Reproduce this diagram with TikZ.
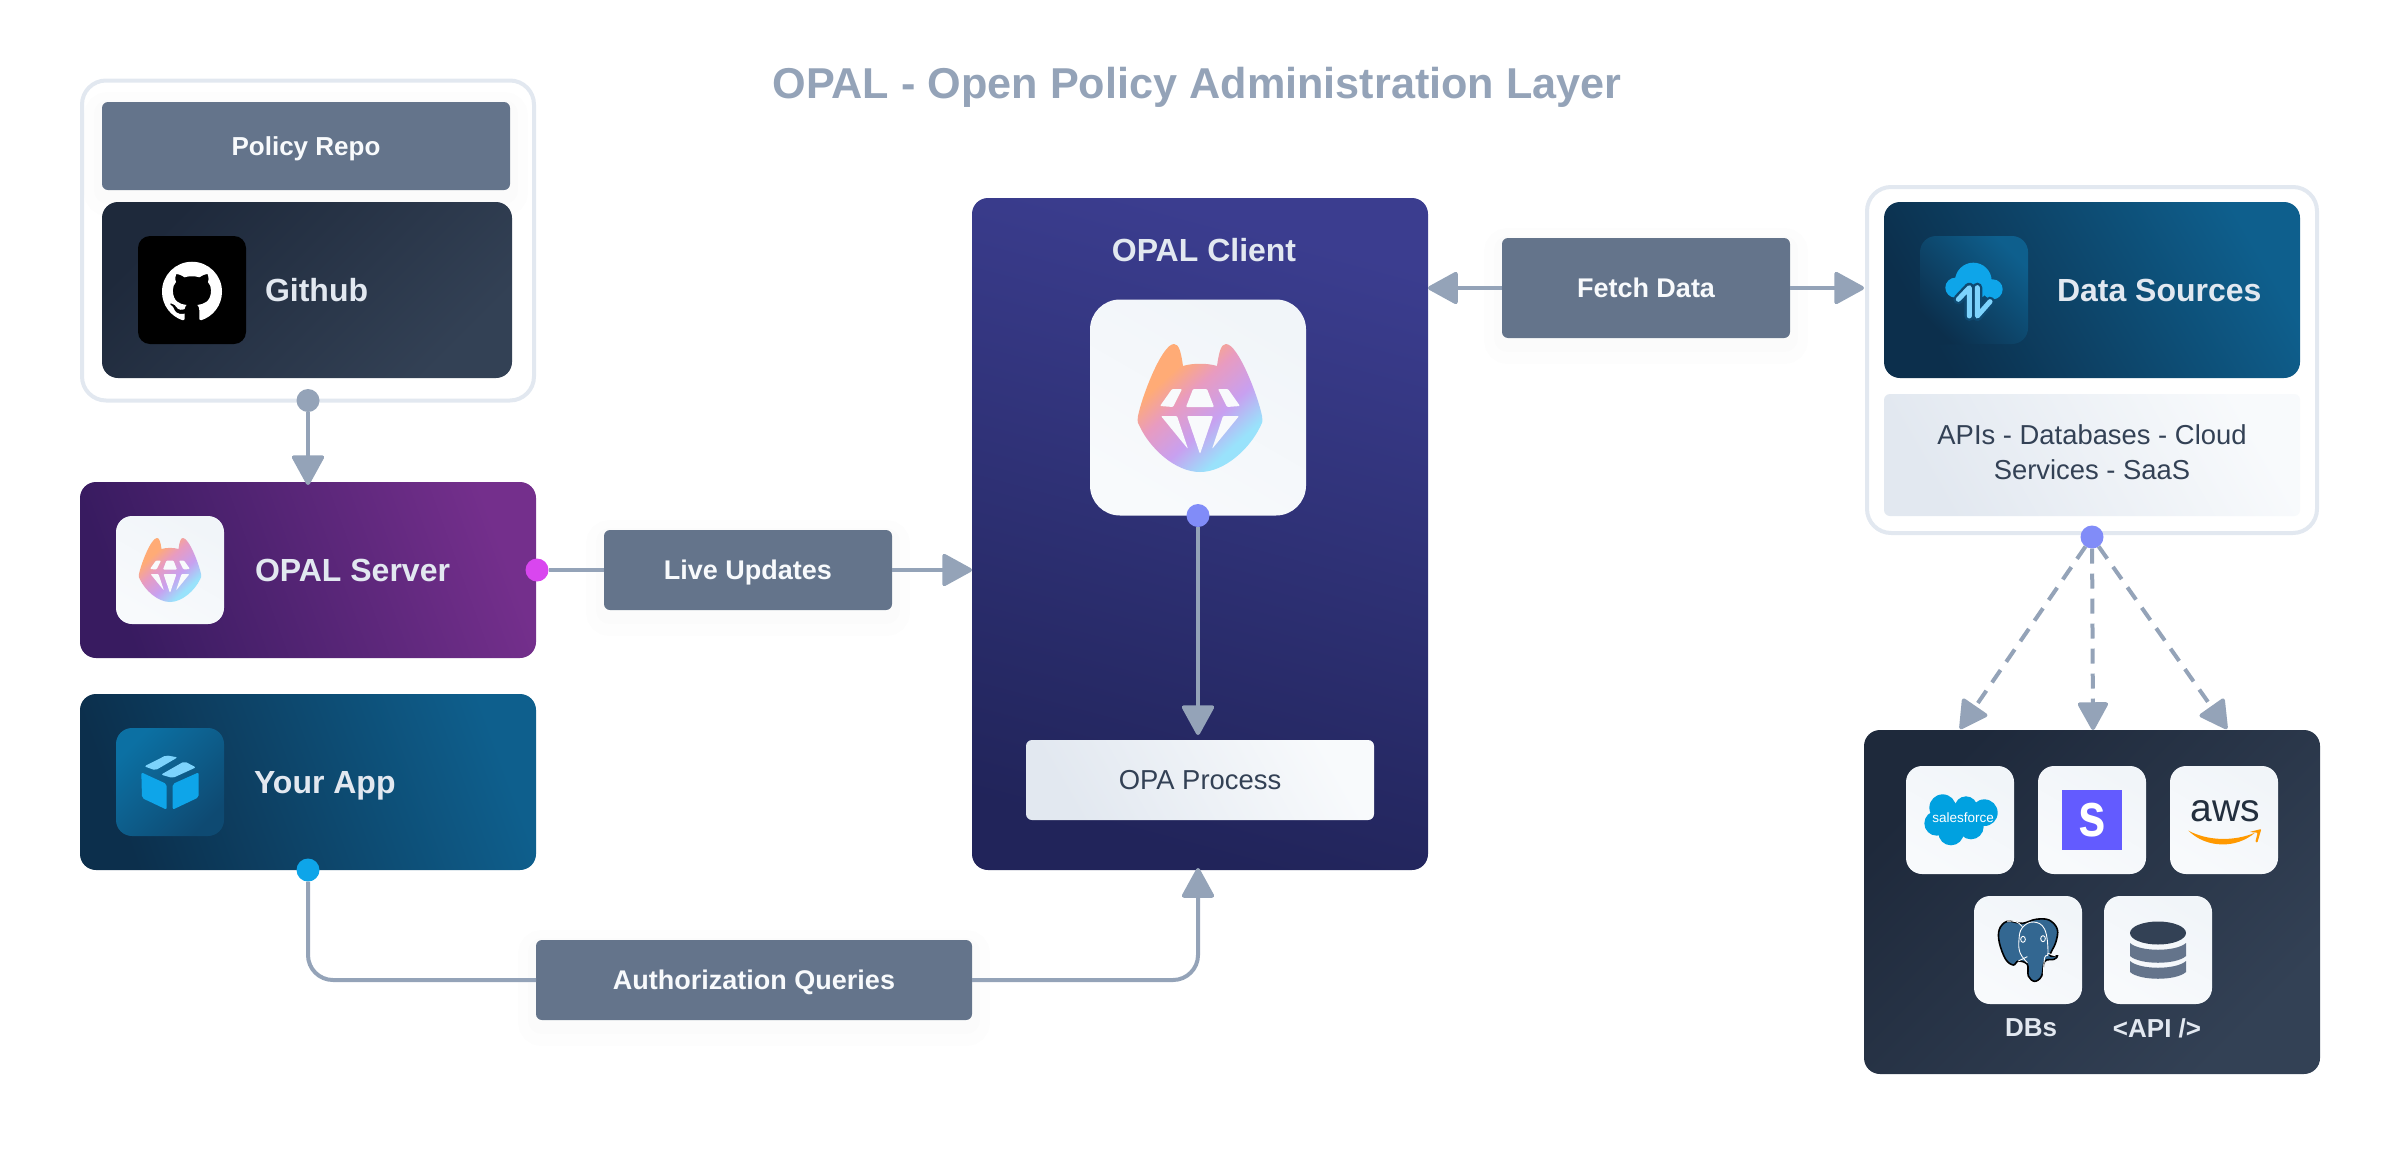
\documentclass[tikz,border=0pt]{standalone}
\usepackage{fontspec}
\setmainfont{Liberation Sans}
\usetikzlibrary{arrows.meta,positioning,svg.path}
\definecolor{slategray}{HTML}{64748B}
\definecolor{flowgray}{HTML}{94A3B8}
\definecolor{inkdark}{HTML}{334155}
\definecolor{inknight}{HTML}{1E293B}
\definecolor{softwhite}{HTML}{E2E8F0}
\definecolor{iconlight}{HTML}{F8FAFC}
\definecolor{iconshade}{HTML}{F1F5F9}
\definecolor{skyblue}{HTML}{0EA5E9}
\definecolor{skylight}{HTML}{7DD3FC}
\definecolor{indigodot}{HTML}{818CF8}
\definecolor{fuchsiadot}{HTML}{D946EF}
\definecolor{serverdark}{HTML}{381B60}
\definecolor{serverlight}{HTML}{742F8C}
\definecolor{oceandark}{HTML}{0C2F4C}
\definecolor{oceanlight}{HTML}{0E5F8D}
\definecolor{oceanbright}{HTML}{0C70A3}
\definecolor{oceanmid}{HTML}{0E4A72}
\definecolor{clientdark}{HTML}{21245A}
\definecolor{clientlight}{HTML}{3B3D8F}
\definecolor{cloudblue}{HTML}{00A1E0}
\definecolor{stripeblue}{HTML}{635BFF}
\definecolor{awsink}{HTML}{232F3E}
\definecolor{awsorange}{HTML}{FF9900}
\definecolor{pgblue}{HTML}{336791}
\definecolor{logoorange}{HTML}{FFAB76}
\definecolor{logopink}{HTML}{E89BC0}
\definecolor{logopurple}{HTML}{C8A0F0}
\definecolor{logocyan}{HTML}{99E2FB}
\pgfdeclarehorizontalshading{opalshade}{100bp}{color(0bp)=(logoorange); color(32bp)=(logoorange); color(43bp)=(logopink); color(57bp)=(logopurple); color(70bp)=(logocyan); color(100bp)=(logocyan)}
\tikzset{%
  arrow/.style={line width=4pt,draw=flowgray,-{Triangle[width=34pt,length=32pt,round]}},
  flow/.style={line width=4pt,draw=flowgray},
  dasharrow/.style={line width=4pt,draw=flowgray,dash pattern=on 15pt off 10pt,-{Triangle[width=32pt,length=30pt,round]}},
  gradient/.style n args={3}{left color=#1,right color=#2,shading angle=#3},
  softshadow/.style={preaction={draw=black,draw opacity=.006,line width=36pt,transform canvas={yshift=-8pt}},preaction={draw=black,draw opacity=.008,line width=16pt,transform canvas={yshift=-6pt}}},
  panel/.style={rounded corners=16pt,inner sep=0pt,outer sep=0pt,minimum width=456pt},
  frame/.style={draw=softwhite,line width=4pt,fill=white!99!softwhite,rounded corners=24pt,inner sep=0pt,outer sep=0pt},
  edgebox/.style={fill=slategray,rounded corners=6pt,inner sep=0pt,outer sep=0pt,softshadow,text=iconlight,font=\fontsize{27}{32}\selectfont\bfseries,text height=19pt,text depth=0pt},
  lightbox/.style={gradient={softwhite}{iconlight}{120},rounded corners=6pt,inner sep=0pt,outer sep=0pt,text=inkdark,font=\fontsize{27.4}{35}\selectfont},
  iconbox/.style={gradient={iconlight}{iconshade}{150},rounded corners=16pt,inner sep=0pt,outer sep=0pt,minimum size=108pt},
  toplabel/.style={inner sep=0pt,outer sep=0pt,text=softwhite,font=\fontsize{32}{38}\selectfont\bfseries,text height=23pt,text depth=0pt},
  smalllabel/.style={inner sep=0pt,outer sep=0pt,text=softwhite,font=\fontsize{26}{30}\selectfont\bfseries},
  dotnode/.style={circle,inner sep=0pt,outer sep=0pt,minimum size=23pt},
  opallogo/.pic={
    \shade[shading=opalshade,shading angle=-48] (-17,-42) .. controls (-19,-56) and (-21,-64) .. (-26,-64)
      .. controls (-38,-64) and (-58,-12) .. (-62,8) .. controls (-63,14) and (-62,16) .. (-60,19)
      .. controls (-50,40) and (-25,64) .. (0,64) .. controls (25,64) and (50,40) .. (60,19)
      .. controls (62,16) and (63,14) .. (62,8) .. controls (58,-12) and (38,-64) .. (26,-64)
      .. controls (21,-64) and (19,-56) .. (17,-42) .. controls (8,-45) and (-8,-45) .. (-17,-42) -- cycle;
    \fill[iconlight,rounded corners=1pt] (-40,-2) -- (-28,-19) -- (-18,-19) -- (-27,-1) -- cycle;
    \fill[iconlight,rounded corners=1pt] (-14,-1) -- (-7,-19) -- (7,-19) -- (14,-1) -- cycle;
    \fill[iconlight,rounded corners=1pt] (40,-2) -- (28,-19) -- (18,-19) -- (27,-1) -- cycle;
    \fill[iconlight,rounded corners=1pt] (-39,8) -- (-23,8) -- (-12,41) -- cycle;
    \fill[iconlight,rounded corners=1pt] (-13,8) -- (13,8) -- (0,46) -- cycle;
    \fill[iconlight,rounded corners=1pt] (39,8) -- (23,8) -- (12,41) -- cycle;
  },
  octocat/.pic={
    \fill[white] svg[xscale=2.5,yscale=-2.5] {M 12 0.297 c -6.63 0 -12 5.373 -12 12 c 0 5.303 3.438 9.8 8.205 11.385 c 0.6 0.113 0.82 -0.258 0.82 -0.577 c 0 -0.285 -0.01 -1.04 -0.015 -2.04 c -3.338 0.724 -4.042 -1.61 -4.042 -1.61 C 4.422 18.07 3.633 17.7 3.633 17.7 c -1.087 -0.744 0.084 -0.729 0.084 -0.729 c 1.205 0.084 1.838 1.236 1.838 1.236 c 1.07 1.835 2.809 1.305 3.495 0.998 c 0.108 -0.776 0.417 -1.305 0.76 -1.605 c -2.665 -0.3 -5.466 -1.332 -5.466 -5.93 c 0 -1.31 0.465 -2.38 1.235 -3.22 c -0.135 -0.303 -0.54 -1.523 0.105 -3.176 c 0 0 1.005 -0.322 3.3 1.23 c 0.96 -0.267 1.98 -0.399 3 -0.405 c 1.02 0.006 2.04 0.138 3 0.405 c 2.28 -1.552 3.285 -1.23 3.285 -1.23 c 0.645 1.653 0.24 2.873 0.12 3.176 c 0.765 0.84 1.23 1.91 1.23 3.22 c 0 4.61 -2.805 5.625 -5.475 5.92 c 0.42 0.36 0.81 1.096 0.81 2.22 c 0 1.606 -0.015 2.896 -0.015 3.286 c 0 0.315 0.21 0.69 0.825 0.57 C 20.565 22.092 24 17.592 24 12.297 c 0 -6.627 -5.373 -12 -12 -12 z};
  },
  appcube/.pic={
    \begin{scope}[x=.3333pt,y=-.3333pt]
      \fill[skyblue,rounded corners=2pt] (76,133) -- (152,168) -- (152,245) -- (78,210) -- cycle;
      \fill[skyblue,rounded corners=2pt] (170,168) -- (248,133) -- (248,208) -- (170,245) -- cycle;
      \fill[skylight,rounded corners=2pt] (85,115) -- (150,82) -- (185,88) -- (118,127) -- cycle;
      \fill[skylight,rounded corners=2pt] (135,140) -- (205,100) -- (240,118) -- (170,150) -- cycle;
    \end{scope}
  },
  cloudarrows/.pic={
    \begin{scope}[x=.3333pt,y=-.3333pt]
      \fill[skyblue] (160,135) circle[radius=55] (106,155) circle[radius=30] (218,160) circle[radius=30];
      \draw[draw=oceanmid,line width=10pt,line cap=round,line join=round] (115,190) -- (148,155) -- (148,240) (172,155) -- (172,240) -- (210,197);
      \draw[skylight,line width=5pt,line cap=round,line join=round] (115,190) -- (148,155) -- (148,240) (172,155) -- (172,240) -- (210,197);
    \end{scope}
  },
  sfcloud/.pic={
    \begin{scope}[x=.3333pt,y=-.3333pt]
      \fill[cloudblue] (110,125) circle[radius=40] (180,125) circle[radius=34] (235,140) circle[radius=40]
        (92,172) circle[radius=37] (135,200) circle[radius=38] (195,182) circle[radius=38] (160,160) circle[radius=40];
    \end{scope}
  },
  awssmile/.pic={
    \begin{scope}[x=.3333pt,y=-.3333pt]
      \fill[awsorange] (55,194) .. controls (115,226) and (195,226) .. (255,200) .. controls (200,248) and (110,248) .. (55,194) -- cycle;
      \fill[awsorange,rounded corners=1pt] (238,198) -- (274,189) -- (262,230) -- (256,228) -- (263,200) -- cycle;
    \end{scope}
  },
  elephant/.pic={
    \begin{scope}[x=.3333pt,y=-.3333pt]
      \draw[black,fill=pgblue,line width=1.6pt] plot[smooth cycle,tension=.6] coordinates {(100,76) (76,100) (76,140) (95,190) (118,207) (133,195) (160,205) (163,240) (182,256) (203,240) (212,196) (240,190) (250,180) (228,178) (245,140) (250,100) (225,72) (185,70) (145,82)};
      \draw[white,line width=.9pt] plot[smooth,tension=.7] coordinates {(160,200) (138,170) (135,130) (145,95) (178,78) (212,100) (222,170) (212,185) (208,235)};
      \draw[white,line width=.9pt] (133,195) -- (160,182) (222,172) -- (245,180) (100,76) .. controls (120,72) and (135,78) .. (145,92);
      \draw[white,line width=.9pt] (147,130) ellipse[x radius=7,y radius=9] (207,128) ellipse[x radius=7,y radius=9];
    \end{scope}
  },
  dbstack/.pic={
    \fill[inkdark] (0,-17) ellipse[x radius=28,y radius=11.5];
    \fill[slategray] (-28,-7) .. controls (-18,2) and (18,2) .. (28,-7) -- (28,6) .. controls (18,15) and (-18,15) .. (-28,6) -- cycle;
    \fill[slategray] (-28,11) .. controls (-18,20) and (18,20) .. (28,11) -- (28,22) .. controls (18,31) and (-18,31) .. (-28,22) -- cycle;
  },
}

\begin{document}
\begin{tikzpicture}[x=1pt,y=-1pt]
  \useasboundingbox (0,0) rectangle (2400,1154);

  \node[inner sep=0pt,text=flowgray,font=\fontsize{43.2}{50}\selectfont\bfseries,text height=31pt,text depth=0pt] (title) at (1197,83) {OPAL - Open Policy Administration Layer};

  % left column
  \node[frame,minimum width=452pt,minimum height=320pt] (repoframe) at (308,240.5) {};
  \node[edgebox,minimum width=408pt,minimum height=88pt,font=\fontsize{26}{30}\selectfont\bfseries] (policy) at (306,146) {Policy Repo};
  \node[panel,gradient={inknight}{inkdark}{45},minimum width=410pt,minimum height=176pt] (github) at (307,290) {};
  \node[rounded corners=12pt,fill=black,minimum size=108pt,inner sep=0pt,outer sep=0pt,anchor=west] (githubicon) at ([xshift=36pt]github.west) {};
  \pic at ([shift={(24,25)}]githubicon.north west) {octocat};
  \node[toplabel,right=19pt of githubicon] (githubtext) {Github};

  \node[panel,gradient={serverdark}{serverlight}{110},minimum height=176pt] (server) at (308,570) {};
  \node[iconbox,anchor=west] (servericon) at ([xshift=36pt]server.west) {};
  \pic[scale=.5] at (servericon) {opallogo};
  \node[toplabel,right=31pt of servericon] (servertext) {OPAL Server};

  \node[panel,gradient={oceandark}{oceanlight}{110},minimum height=176pt,below=36pt of server] (yourapp) {};
  \node[iconbox,gradient={oceanbright}{oceanmid}{45},anchor=west] (appicon) at ([xshift=36pt]yourapp.west) {};
  \pic at (appicon.north west) {appcube};
  \node[toplabel,right=30pt of appicon] (apptext) {Your App};

  % client
  \node[panel,gradient={clientdark}{clientlight}{165},minimum width=456pt,minimum height=672pt] (client) at (1200,534) {};
  \node[toplabel,inner sep=0pt] (clienttext) at (1204,250) {OPAL Client};
  \node[iconbox,rounded corners=30pt,minimum width=216pt,minimum height=216pt] (clienticon) at (1198,407.5) {};
  \pic at (1200,408) {opallogo};
  \node[lightbox,minimum width=348pt,minimum height=80pt] (opa) at (1200,780) {OPA Process};

  % data sources
  \node[frame,minimum width=450pt,minimum height=346pt] (dataframe) at (2092,360) {};
  \node[panel,gradient={oceandark}{oceanlight}{120},minimum width=416pt,minimum height=176pt] (datasources) at (2092,290) {};
  \node[iconbox,gradient={oceandark}{oceanlight}{135},anchor=west] (dataicon) at ([xshift=36pt]datasources.west) {};
  \pic at (dataicon.north west) {cloudarrows};
  \node[toplabel,right=29pt of dataicon] (datatext) {Data Sources};
  \node[lightbox,minimum width=416pt,minimum height=122pt] (databox) at (2092,455) {};
  \node[inner sep=0pt,align=center,text=inkdark,font=\fontsize{27.4}{35}\selectfont] (datacopy) at (2092,452) {APIs - Databases - Cloud\\Services - SaaS};

  % source logos
  \node[panel,gradient={inknight}{inkdark}{45},minimum width=456pt,minimum height=344pt] (sources) at (2092,902) {};
  \node[iconbox] (sfbox) at (1960,820) {};
  \node[iconbox,right=24pt of sfbox] (stripebox) {};
  \node[iconbox,right=24pt of stripebox] (awsbox) {};
  \node[iconbox] (pgbox) at (2028,950) {};
  \node[iconbox,right=22pt of pgbox] (dbbox) {};
  \pic at (sfbox.north west) {sfcloud};
  \node[inner sep=0pt,text=white,font=\fontsize{13.5}{15}\selectfont] (sftext) at (1963,818) {salesforce};
  \node[fill=stripeblue,minimum size=60pt,inner sep=0pt] (stripelogo) at (2092,820) {};
  \node[inner sep=0pt,text=white,xscale=.8,font=\fontsize{62}{66}\selectfont\bfseries] (stripetext) at (stripelogo) {s};
  \node[inner sep=0pt,text=awsink,font=\fontsize{39}{42}\selectfont] (awstext) at (2225,811) {aws};
  \pic at (awsbox.north west) {awssmile};
  \pic at (pgbox.north west) {elephant};
  \pic at (dbbox) {dbstack};
  \node[smalllabel] (dbstext) at (2031,1028) {DBs};
  \node[smalllabel] (apitext) at (2157,1028) {<API />};

  % edge labels
  \node[edgebox,minimum width=288pt,minimum height=80pt] (live) at (748,570) {Live Updates};
  \node[edgebox,minimum width=436pt,minimum height=80pt] (auth) at (754,980) {Authorization Queries};
  \node[edgebox,minimum width=288pt,minimum height=100pt] (fetch) at (1646,288) {Fetch Data};

  % dots
  \node[dotnode,fill=flowgray] (repodot) at (repoframe.south) {};
  \node[dotnode,fill=fuchsiadot] (serverdot) at ([xshift=1pt]server.east) {};
  \node[dotnode,fill=skyblue] (appdot) at (yourapp.south) {};
  \node[dotnode,fill=indigodot] (clientdot) at (clienticon.south) {};
  \node[dotnode,fill=indigodot] (datadot) at ([yshift=-4pt]dataframe.south) {};
  \coordinate (leftsrc) at (1960,729);
  \coordinate (midsrc) at (2093,730);
  \coordinate (rightsrc) at (2227,729);

  \draw[arrow,shorten >=-3pt] (repodot) -- (repodot |- server.north);
  \draw[flow] (serverdot) -- (serverdot -| live.west);
  \draw[arrow] (serverdot -| live.east) -- (serverdot -| client.west);
  \draw[arrow,shorten >=5pt] (clientdot) -- (clientdot |- opa.north);
  \draw[flow,rounded corners=25pt] (appdot) |- (auth.west);
  \draw[arrow,rounded corners=25pt,shorten >=-2pt] (auth.east) -| (clientdot |- client.south);
  \draw[arrow] (fetch.west) -- (fetch -| client.east);
  \draw[arrow,shorten >=3pt] (fetch.east) -- (fetch -| dataframe.west);
  \draw[dasharrow] (datadot) -- (leftsrc);
  \draw[dasharrow] (datadot) -- (midsrc);
  \draw[dasharrow] (datadot) -- (rightsrc);
\end{tikzpicture}
\end{document}
